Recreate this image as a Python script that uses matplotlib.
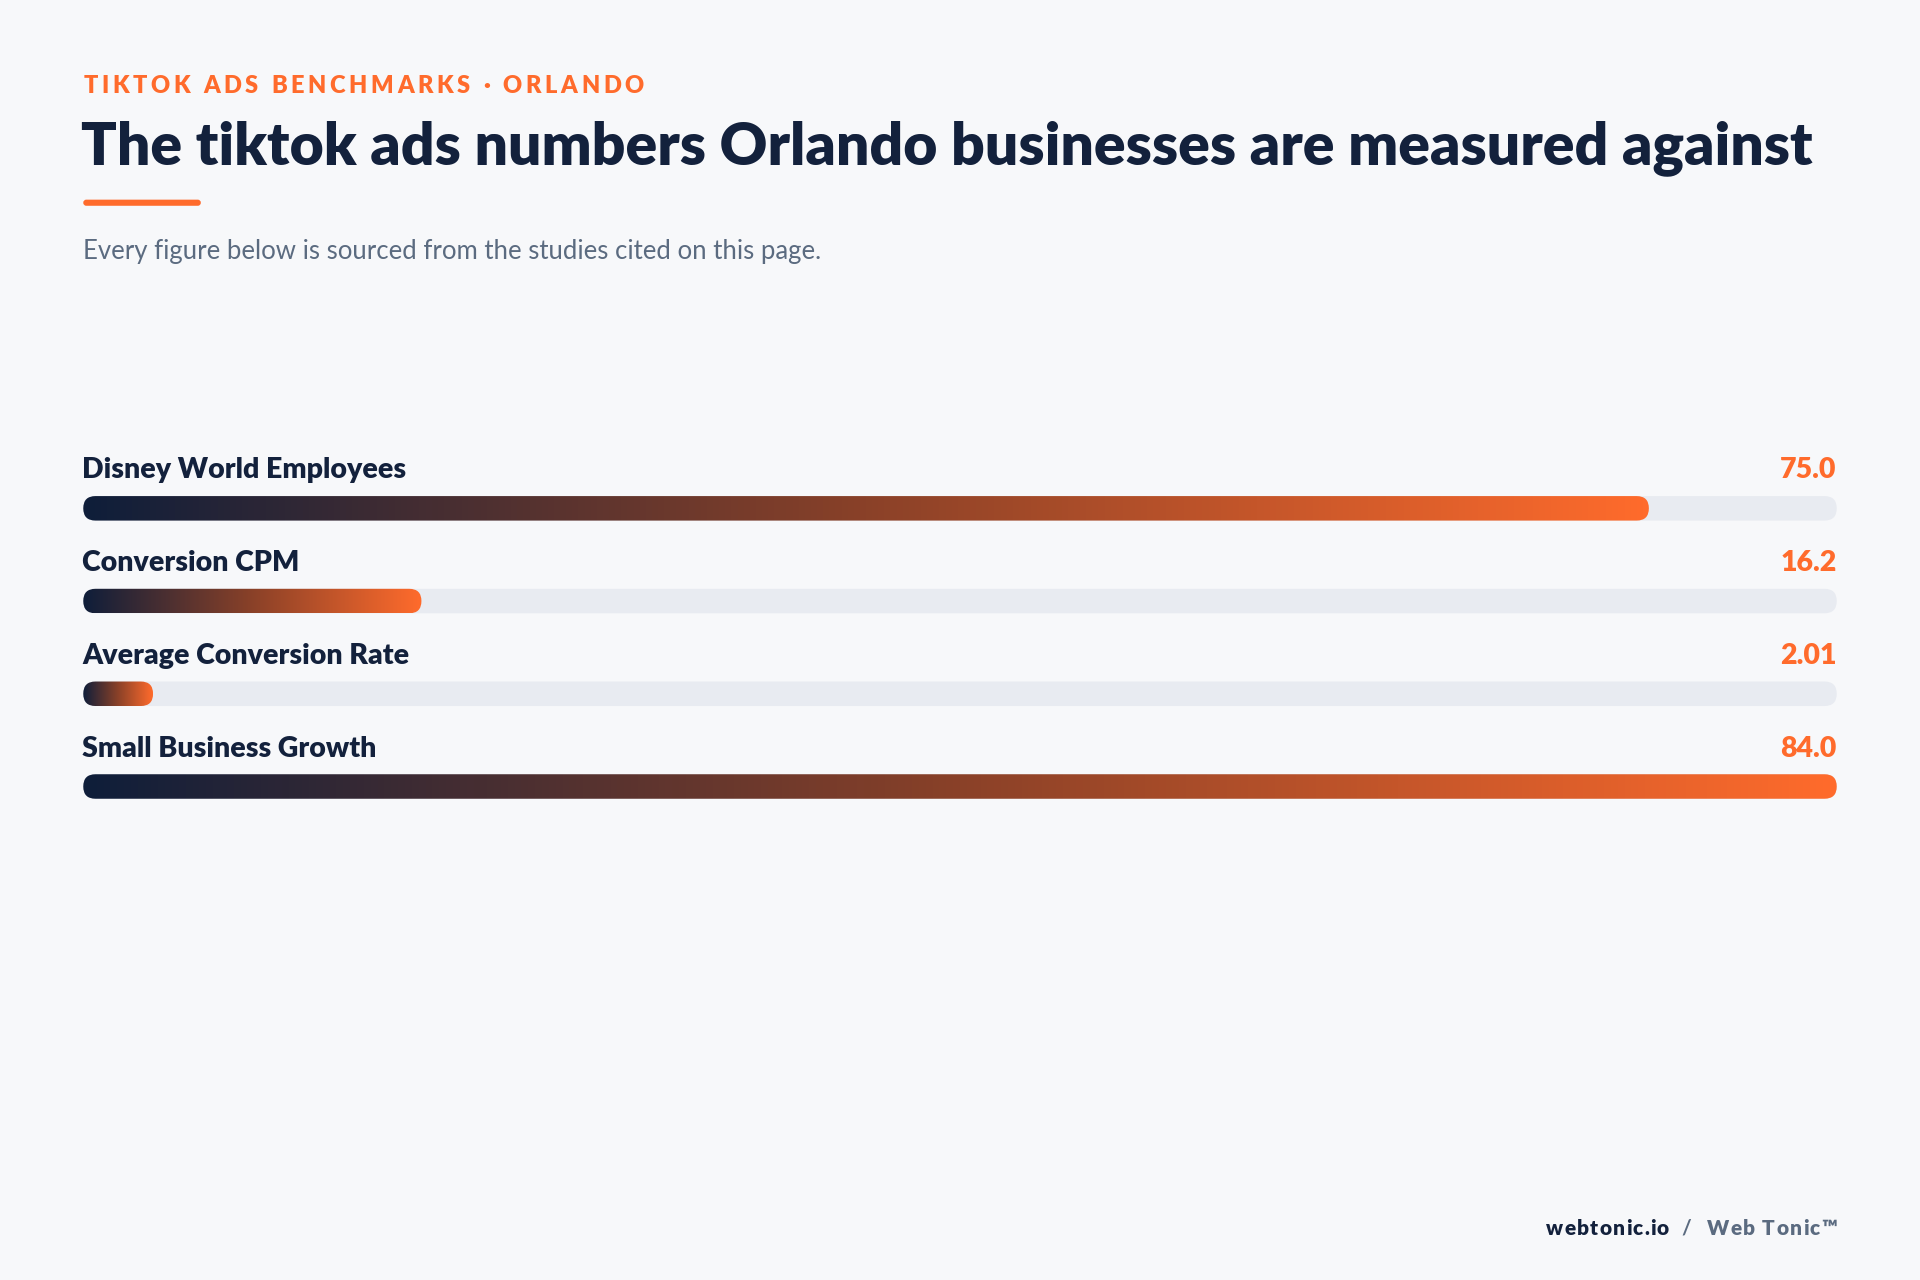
import matplotlib
matplotlib.use("Agg")
import matplotlib.pyplot as plt
import numpy as np
from matplotlib.patches import FancyBboxPatch
from matplotlib.colors import LinearSegmentedColormap

labels = ["Disney World Employees", "Conversion CPM", "Average Conversion Rate", "Small Business Growth"]
values = [75.0, 16.2, 2.01, 84.0]
value_text = ["75.0", "16.2", "2.01", "84.0"]

plt.rcParams['font.family'] = ['Lato', 'DejaVu Sans']
W, H = 1568, 1045
fig = plt.figure(figsize=(19.2, 12.8), dpi=100)
fig.patch.set_facecolor("#f7f8fa")
ax = fig.add_axes([0, 0, 1, 1])
ax.set_xlim(0, W); ax.set_ylim(H, 0); ax.axis("off")
renderer = fig.canvas.get_renderer()
sx = W / 1920.0

def tracked(x, y, s, track, align="left", **kw):
    widths = []
    for ch in s:
        t = ax.text(0, 0, ch if ch != " " else "\u00a0", **kw)
        widths.append(t.get_window_extent(renderer).width * sx)
        t.remove()
    total = sum(widths) + track * (len(s) - 1)
    cx = x if align == "left" else x - total
    for ch, w in zip(s, widths):
        ax.text(cx, y, ch, ha="left", va="center", **kw)
        cx += w + track

navy = "#13213c"; orange = "#ff6b2c"; grey = "#5b6b80"
tracked(68, 70, "TIKTOK ADS BENCHMARKS · ORLANDO", 3.0, color=orange, fontsize=17, fontweight="heavy")
ax.text(66, 121, "The tiktok ads numbers Orlando businesses are measured against", color=navy, fontsize=42.4, fontweight="heavy", va="center", ha="left")
ax.add_patch(FancyBboxPatch((68, 163), 96, 5, boxstyle="round,pad=0,rounding_size=2.5", fc=orange, ec="none"))
ax.text(68, 205, "Every figure below is sourced from the studies cited on this page.", color=grey, fontsize=18.5, va="center", ha="left")

cmap = LinearSegmentedColormap.from_list("g", ["#0f1e3a", "#8a4128", orange])
x0, x1 = 68, 1500
vmax = max(values)
grad = np.linspace(0, 1, 256).reshape(1, -1)
for i, (lab, v, vt) in enumerate(zip(labels, values, value_text)):
    yc = 415 + i * 75.7
    h = 20
    ax.text(67, yc - 31, lab, color=navy, fontsize=20.5, fontweight="heavy", va="center", ha="left")
    ax.text(1500, yc - 31, vt, color=orange, fontsize=20.5, fontweight="heavy", va="center", ha="right")
    ax.add_patch(FancyBboxPatch((x0, yc - h/2), x1 - x0, h, boxstyle=f"round,pad=0,rounding_size={h/2}", fc="#e8ebf1", ec="none"))
    w = max((x1 - x0) * v / vmax, 57)
    p = FancyBboxPatch((x0, yc - h/2), w, h, boxstyle=f"round,pad=0,rounding_size={h/2}", fc="none", ec="none")
    ax.add_patch(p)
    im = ax.imshow(grad, cmap=cmap, extent=(x0, x0 + w, yc + h/2, yc - h/2), aspect="auto", zorder=3)
    im.set_clip_path(p)
ax.set_xlim(0, W); ax.set_ylim(H, 0)

tracked(1500, 1003, "Web Tonic™", 1.0, align="right", color=grey, fontsize=15, fontweight="heavy")
ax.text(1377, 1003, "/", color=grey, fontsize=15, fontweight="bold", va="center", ha="center")
tracked(1363, 1003, "webtonic.io", 1.0, align="right", color=navy, fontsize=15, fontweight="heavy")
fig.savefig("out.png", dpi=100, facecolor=fig.get_facecolor())
